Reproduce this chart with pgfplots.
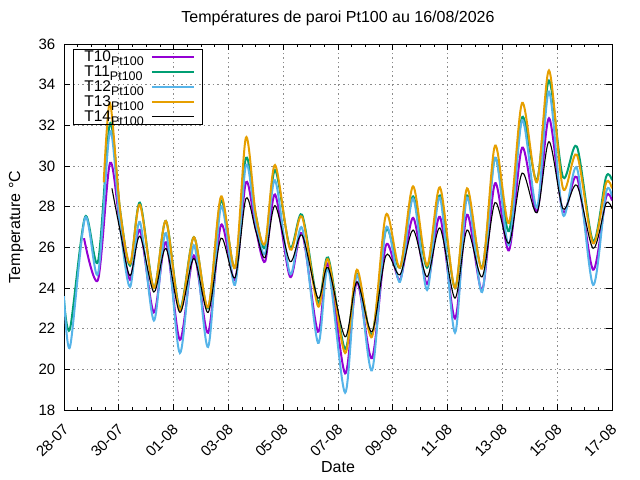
\documentclass[border=0pt]{standalone}
\usepackage{pgfplots}
\pgfplotsset{compat=1.18}
\usepackage{fontspec}
\setmainfont{Liberation Sans}
\definecolor{cten}{RGB}{148,0,211}
\definecolor{celeven}{RGB}{0,158,115}
\definecolor{ctwelve}{RGB}{86,180,233}
\definecolor{cthirteen}{RGB}{230,159,0}
\begin{document}
\begin{tikzpicture}
\useasboundingbox (0,0) rectangle (640bp,480bp);
\begin{axis}[
  at={(64bp,70bp)}, anchor=south west,
  scale only axis, width=548bp, height=366bp,
  xmin=0, xmax=20, ymin=18, ymax=36,
  xtick={0,2,...,20},
  xticklabels={28-07,30-07,01-08,03-08,05-08,07-08,09-08,11-08,13-08,15-08,17-08},
  minor x tick num=3,
  ytick={18,20,...,36},
  tick align=inside,
  major tick length=6bp, minor tick length=3bp,
  tick style={black, line width=0.8bp},
  axis line style={line width=0.8bp},
  grid=major,
  major grid style={color=black!45, dash pattern=on 1.5bp off 3bp, line width=0.8bp},
  /pgf/number format/assume math mode=true,
  yticklabel style={inner sep=0pt, anchor=east, xshift=-8.5bp, font=\fontsize{15bp}{15bp}\selectfont},
  xticklabel style={inner sep=0pt, xshift=2bp, yshift=-17bp, rotate=45, anchor=east, font=\fontsize{15bp}{15bp}\selectfont},
  title={Températures de paroi Pt100 au 16/08/2026},
  title style={at={(0.5,1)}, anchor=base, yshift=15.7bp, inner sep=0pt, font=\fontsize{16bp}{16bp}\selectfont},
  xlabel={Date},
  xlabel style={at={(0.5,0)}, anchor=base, yshift=-62bp, inner sep=0pt, font=\fontsize{16bp}{16bp}\selectfont},
  ylabel={Temperature °C},
  ylabel style={at={([xshift=-44bp]axis description cs:0,0.5)}, rotate=0, anchor=base, inner sep=0pt, font=\fontsize{16bp}{16bp}\selectfont},
  legend plot pos=right,
  legend cell align=left,
  legend image code/.code={\draw[#1] (0bp,0bp) -- (42bp,0bp);},
  legend style={at={(0,1)}, anchor=north west, xshift=9bp, yshift=-5bp,
    draw=black, line width=0.8bp, fill=none,
    inner xsep=8bp, inner ysep=0bp, row sep=0bp, column sep=7bp,
    font=\fontsize{15.5bp}{15.5bp}\selectfont,
    nodes={inner sep=0pt, text height=12bp, text depth=3bp}},
]
\addplot[cten, line width=2bp, smooth] coordinates {
(0.73,26.45) (1.24,24.4) (1.68,30.15) (2.05,27.0) (2.41,24.4) (2.77,26.85) (3.28,22.8) (3.72,26.25) (4.23,21.45) (4.74,25.6) (5.26,21.8) (5.73,27.1) (6.24,24.4) (6.64,29.2) (7.0,26.9) (7.34,25.3) (7.70,28.6) (8.25,24.55) (8.69,26.7) (9.27,21.85) (9.64,25.2) (10.26,19.8) (10.69,24.3) (11.24,20.55) (11.75,26.1) (12.26,24.4) (12.74,27.45) (13.25,24.2) (13.72,27.5) (14.27,22.5) (14.71,27.6) (15.26,23.9) (15.73,29.15) (16.24,25.85) (16.72,30.9) (17.26,27.75) (17.70,32.35) (18.21,27.75) (18.72,29.45) (19.31,24.9) (19.78,28.45) (20.0,28.3)
};
\addlegendentry{\hspace*{3bp}T10\raisebox{-4bp}{\fontsize{12.5bp}{12.5bp}\selectfont Pt100}}
\addplot[celeven, line width=2bp, smooth] coordinates {
(0,23.4) (0.22,22.0) (0.77,27.5) (1.24,25.3) (1.68,32.1) (2.05,27.8) (2.41,25.1) (2.77,28.2) (3.28,24.0) (3.72,27.3) (4.23,23.0) (4.74,26.5) (5.26,23.0) (5.73,28.3) (6.24,25.0) (6.64,30.4) (7.0,27.6) (7.34,26.0) (7.70,29.8) (8.25,26.0) (8.69,27.6) (9.27,23.3) (9.64,25.5) (10.26,21.0) (10.69,24.7) (11.24,21.7) (11.75,26.85) (12.26,25.0) (12.74,28.5) (13.25,25.0) (13.72,28.55) (14.27,24.0) (14.71,28.55) (15.26,25.0) (15.73,30.4) (16.24,26.8) (16.72,32.4) (17.26,29.3) (17.70,34.2) (18.21,29.45) (18.72,30.95) (19.31,26.3) (19.78,29.45) (20.0,29.3)
};
\addlegendentry{\hspace*{3bp}T11\raisebox{-4bp}{\fontsize{12.5bp}{12.5bp}\selectfont Pt100}}
\addplot[ctwelve, line width=2bp, smooth] coordinates {
(0,23.6) (0.22,21.1) (0.77,27.45) (1.24,24.7) (1.68,31.7) (2.05,27.0) (2.41,24.05) (2.77,27.25) (3.28,22.4) (3.72,26.7) (4.23,20.8) (4.74,26.1) (5.26,21.1) (5.73,28.0) (6.24,24.15) (6.64,30.05) (7.0,27.2) (7.34,25.7) (7.70,29.3) (8.25,24.7) (8.69,26.95) (9.27,21.3) (9.64,24.95) (10.26,18.85) (10.69,24.65) (11.24,19.95) (11.75,26.95) (12.26,24.3) (12.74,28.4) (13.25,23.9) (13.72,28.45) (14.27,21.8) (14.71,28.45) (15.26,23.8) (15.73,30.4) (16.24,26.1) (16.72,32.25) (17.26,27.95) (17.70,33.65) (18.21,27.6) (18.72,29.9) (19.31,24.15) (19.78,28.7) (20.0,28.5)
};
\addlegendentry{\hspace*{3bp}T12\raisebox{-4bp}{\fontsize{12.5bp}{12.5bp}\selectfont Pt100}}
\addplot[cthirteen, line width=2bp, smooth] coordinates {
(1.45,29.2) (1.68,33.1) (2.05,27.8) (2.41,25.2) (2.77,28.1) (3.28,24.0) (3.72,27.3) (4.23,22.9) (4.74,26.5) (5.26,23.05) (5.73,28.5) (6.24,25.0) (6.64,31.4) (7.0,27.6) (7.34,26.2) (7.70,30.05) (8.25,25.9) (8.69,27.5) (9.27,23.1) (9.64,25.4) (10.26,20.8) (10.69,24.9) (11.24,21.6) (11.75,27.6) (12.26,25.0) (12.74,29.0) (13.25,25.1) (13.72,28.95) (14.27,24.0) (14.71,28.9) (15.26,24.95) (15.73,31.0) (16.24,27.2) (16.72,33.1) (17.26,29.2) (17.70,34.7) (18.21,28.9) (18.72,30.55) (19.31,26.2) (19.78,29.15) (20.0,28.9)
};
\addlegendentry{\hspace*{3bp}T13\raisebox{-4bp}{\fontsize{12.5bp}{12.5bp}\selectfont Pt100}}
\addplot[black, line width=1.1bp, smooth] coordinates {
(1.75,28.9) (2.05,26.8) (2.41,24.6) (2.77,26.55) (3.28,23.8) (3.72,25.95) (4.23,22.8) (4.74,25.45) (5.26,22.8) (5.73,26.45) (6.24,24.5) (6.64,28.4) (7.0,26.8) (7.34,25.5) (7.70,28.05) (8.25,25.3) (8.69,26.6) (9.27,23.5) (9.64,25.0) (10.26,21.6) (10.69,24.3) (11.24,21.85) (11.75,25.6) (12.26,24.65) (12.74,26.85) (13.25,24.55) (13.72,26.95) (14.27,23.5) (14.71,26.85) (15.26,24.55) (15.73,28.2) (16.24,26.2) (16.72,29.65) (17.26,27.7) (17.70,31.2) (18.21,27.9) (18.72,29.05) (19.31,25.95) (19.78,28.15) (20.0,27.9)
};
\addlegendentry{\hspace*{3bp}T14\raisebox{-4bp}{\fontsize{12.5bp}{12.5bp}\selectfont Pt100}}
\end{axis}
\end{tikzpicture}
\end{document}
